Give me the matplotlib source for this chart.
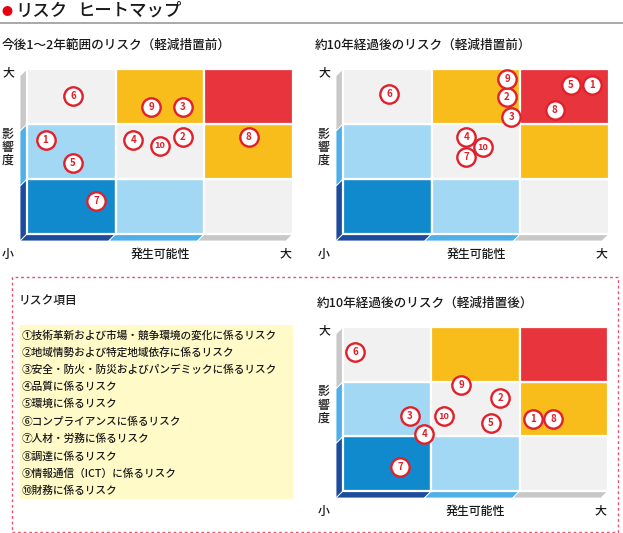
import matplotlib
matplotlib.use("Agg")
import matplotlib.pyplot as plt
from matplotlib.patches import Rectangle, Polygon
from matplotlib.lines import Line2D

plt.rcParams['font.family'] = ['Noto Sans CJK JP', 'DejaVu Sans']

# --- data ---------------------------------------------------------------
risk_ids = [1, 2, 3, 4, 5, 6, 7, 8, 9, 10]

risk_items = [
    "①技術革新および市場・競争環境の変化に係るリスク",
    "②地域情勢および特定地域依存に係るリスク",
    "③安全・防火・防災およびパンデミックに係るリスク",
    "④品質に係るリスク",
    "⑤環境に係るリスク",
    "⑥コンプライアンスに係るリスク",
    "⑦人材・労務に係るリスク",
    "⑧調達に係るリスク",
    "⑨情報通信（ICT）に係るリスク",
    "⑩財務に係るリスク",
]

# likelihood (x, 0-3) / impact (y, 0-3) for risks 1..10
near_before_x = [0.21, 1.76, 1.76, 1.20, 0.52, 0.52, 0.78, 2.50, 1.40, 1.50]
near_before_y = [1.71, 1.76, 2.31, 1.71, 1.29, 2.51, 0.60, 1.76, 2.31, 1.60]

far_before_x = [2.81, 1.85, 1.90, 1.39, 2.57, 0.52, 1.39, 2.39, 1.85, 1.58]
far_before_y = [2.71, 2.49, 2.13, 1.76, 2.71, 2.55, 1.40, 2.25, 2.82, 1.58]

far_after_x = [2.15, 1.78, 0.76, 0.92, 1.67, 0.14, 0.65, 2.38, 1.34, 1.14]
far_after_y = [1.32, 1.71, 1.37, 1.04, 1.24, 2.54, 0.44, 1.32, 1.94, 1.37]

# --- styles ---------------------------------------------------------------
GRAY = '#f1f1f1'
LBLUE = '#a2d8f4'
DBLUE = '#1189cd'
ORANGE = '#f8bc1b'
RED = '#e8353d'
cell_colors = [
    [DBLUE, LBLUE, GRAY],    # bottom row (impact small)
    [LBLUE, GRAY, ORANGE],   # middle row
    [GRAY, ORANGE, RED],     # top row (impact large)
]
side_left = ['#1d4c9d', '#4fb0e8', '#c8c8c8']
side_bottom = ['#1d4c9d', '#4fb0e8', '#c8c8c8']
MARK_RED = '#e0202a'
TXT = '#1a1a1a'
WT = 'medium'

W, H = 623, 533


def fx(x):
    return x / W


def fy(y):
    return 1 - y / H


def draw_matrix(left, top, right, bottom, xs, ys):
    ax = fig.add_axes([fx(left), fy(bottom), (right - left) / W, (bottom - top) / H])
    ax.set_xlim(0, 3)
    ax.set_ylim(0, 3)
    ax.axis('off')
    dx = 7 / (right - left) * 3
    dy = 7 / (bottom - top) * 3
    for r in range(3):
        ax.add_patch(Polygon([(0, r + 1), (-dx, r + 1 - dy), (-dx, r - dy), (0, r)],
                             closed=True, facecolor=side_left[r], edgecolor='white',
                             lw=0.6, clip_on=False))
    for c in range(3):
        ax.add_patch(Polygon([(c, 0), (c + 1, 0), (c + 1 - dx, -dy), (c - dx, -dy)],
                             closed=True, facecolor=side_bottom[c], edgecolor='white',
                             lw=0.6, clip_on=False))
    for r in range(3):
        for c in range(3):
            ax.add_patch(Rectangle((c, r), 1, 1, facecolor=cell_colors[r][c],
                                   edgecolor='white', lw=1.6, clip_on=False))
    ax.scatter(xs, ys, s=175, facecolor='white', edgecolor=MARK_RED, linewidth=1.7,
               zorder=5, clip_on=False)
    for i, x, y in zip(risk_ids, xs, ys):
        ax.text(x, y, str(i), color=MARK_RED, fontsize=7 if i < 10 else 6.6,
                ha='center', va='center', zorder=6, fontweight='bold')
    # axis words
    lx = left - 19
    kw = dict(fontsize=8.6, ha='center', va='center', color=TXT, fontweight=WT)
    fig.text(fx(lx), fy(top + 4), '大', **kw)
    fig.text(fx(lx), fy((top + bottom) / 2 - 4), '影\n響\n度', linespacing=1.0, **kw)
    fig.text(fx(lx), fy(bottom + 20), '小', **kw)
    fig.text(fx((left + right) / 2), fy(bottom + 20), '発生可能性', **kw)
    fig.text(fx(right - 8), fy(bottom + 20), '大', **kw)
    return ax


fig = plt.figure(figsize=(W / 100, H / 100), dpi=100)

# header
fig.text(fx(1), fy(12), '●', color='#e60012', fontsize=8, ha='left', va='center')
fig.text(fx(15), fy(11), 'リスク', fontsize=12.5, ha='left', va='center',
         color=TXT, fontweight=WT)
fig.text(fx(77), fy(11), 'ヒートマップ', fontsize=12.5, ha='left', va='center',
         color=TXT, fontweight=WT)
fig.add_artist(Line2D([0, 1], [fy(23), fy(23)], color='#9a9a9a', lw=1.2))

# dashed frame around the lower half
fig.add_artist(Rectangle((fx(12), fy(532)), (618 - 12) / W, (532 - 277) / H,
                         fill=False, edgecolor='#ee4f6e', lw=1.0, linestyle=(0, (2, 2))))

# chart titles
tkw = dict(fontsize=9.1, ha='left', va='center', color=TXT, fontweight=WT)
fig.text(fx(2), fy(45), '今後1～2年範囲のリスク（軽減措置前）', **tkw)
fig.text(fx(315), fy(45), '約10年経過後のリスク（軽減措置前）', **tkw)
fig.text(fx(317), fy(303), '約10年経過後のリスク（軽減措置後）', **tkw)

draw_matrix(27, 69, 293, 234, near_before_x, near_before_y)
draw_matrix(343, 69, 609, 234, far_before_x, far_before_y)
draw_matrix(343, 327, 608, 491, far_after_x, far_after_y)

# legend list
fig.text(fx(19), fy(300), 'リスク項目', fontsize=8.5, ha='left', va='center',
         color=TXT, fontweight=WT)
fig.add_artist(Rectangle((fx(20), fy(499)), (293 - 20) / W, (499 - 325) / H,
                         facecolor='#fffac8', edgecolor='none'))
for k, item in enumerate(risk_items):
    fig.text(fx(22), fy(335 + k * 17.3), item, fontsize=7.7, ha='left', va='center',
             color=TXT, fontweight=WT)

fig.savefig('out.png', dpi=100)
